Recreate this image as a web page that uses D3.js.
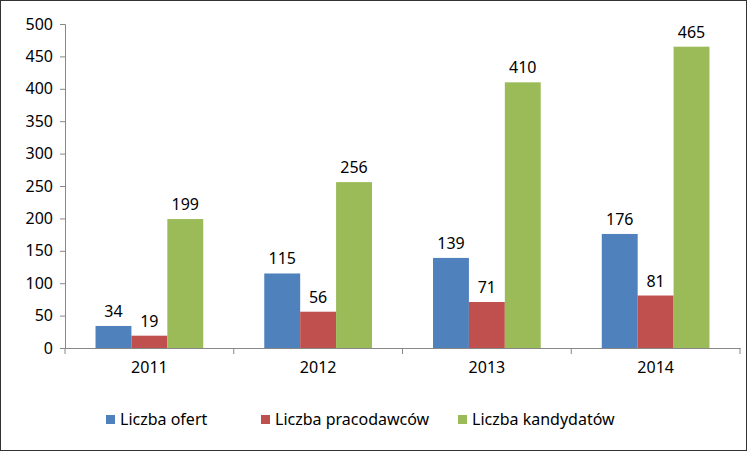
<!DOCTYPE html>
<html><head><meta charset="utf-8">
<script src="https://cdn.jsdelivr.net/npm/d3@7"></script>
<style>body{margin:0;background:#fff}svg{display:block;font-family:"Noto Sans",Arial,sans-serif}</style>
</head><body>
<svg width="747" height="451"></svg>
<script>
const years = ["2011", "2012", "2013", "2014"];
const seriesNames = ["Liczba ofert", "Liczba pracodawców", "Liczba kandydatów"];
const ofert = [34, 115, 139, 176];
const pracodawcow = [19, 56, 71, 81];
const kandydatow = [199, 256, 410, 465];
const yTicks = [0, 50, 100, 150, 200, 250, 300, 350, 400, 450, 500];
const colors = ["#4F81BD", "#C0504D", "#9BBB59"];

const allSeries = [ofert, pracodawcow, kandydatow];
const font = "Noto Sans, Arial, sans-serif";
const svg = d3.select("svg");
svg.append("rect").attr("x", 0.5).attr("y", 0.5).attr("width", 746).attr("height", 450)
  .attr("fill", "#fff").attr("stroke", "#333");

const x = d3.scaleBand().domain(years).range([65, 740]);
const xs = d3.scaleBand().domain(seriesNames).range([0, x.bandwidth()]).paddingOuter(0.85).paddingInner(0);
const y = d3.scaleLinear().domain([0, 500]).range([348, 24]);

const g = svg.append("g");
years.forEach((yr, i) => {
  allSeries.forEach((s, j) => {
    const bx = x(yr) + xs(seriesNames[j]);
    g.append("rect").attr("x", bx).attr("y", y(s[i])).attr("width", xs.bandwidth())
      .attr("height", y(0) - y(s[i])).attr("fill", colors[j]);
    g.append("text").attr("x", bx + xs.bandwidth() / 2).attr("y", y(s[i]) - 9)
      .attr("text-anchor", "middle").attr("font-size", 16).attr("fill", "#000").text(s[i]);
  });
});

const yAxis = svg.append("g").attr("transform", "translate(65,0)")
  .call(d3.axisLeft(y).tickValues(yTicks).tickSize(5).tickPadding(7));
yAxis.select(".domain").attr("stroke", "#888");
yAxis.selectAll(".tick line").attr("stroke", "#888");
yAxis.selectAll("text").attr("font-size", 16).attr("fill", "#000").attr("font-family", font);

const xAxis = svg.append("g").attr("transform", "translate(0,348)")
  .call(d3.axisBottom(x).tickSize(0).tickPadding(14));
xAxis.select(".domain").attr("stroke", "#888");
xAxis.selectAll("text").attr("font-size", 16).attr("fill", "#000").attr("font-family", font);
xAxis.selectAll(".sep").data(years.concat(["end"])).enter().append("line")
  .attr("x1", (d, i) => i < years.length ? x(d) : x.range()[1])
  .attr("x2", (d, i) => i < years.length ? x(d) : x.range()[1])
  .attr("y1", 0).attr("y2", 6).attr("stroke", "#888");

const legendX = [106, 261, 458];
const leg = svg.append("g").attr("transform", "translate(0,420)");
seriesNames.forEach((n, j) => {
  leg.append("rect").attr("x", legendX[j]).attr("y", -5).attr("width", 9).attr("height", 9).attr("fill", colors[j]);
  leg.append("text").attr("x", legendX[j] + 14).attr("y", 5).attr("font-size", 16).text(n);
});
</script>
</body></html>
